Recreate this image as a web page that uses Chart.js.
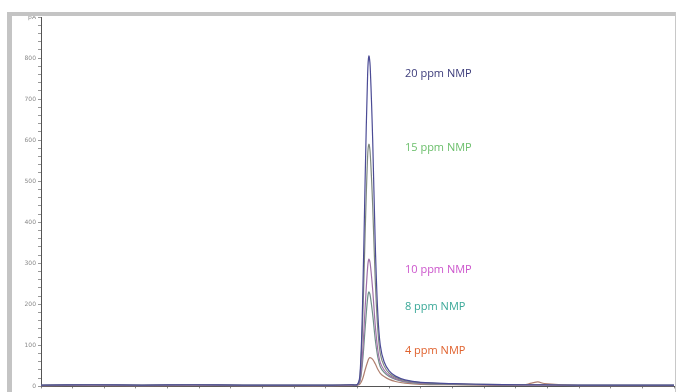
<!DOCTYPE html>
<html lang="en">
<head>
<meta charset="UTF-8" />
<title>NMP calibration chromatograms</title>
<style>
  * { box-sizing: border-box; }
  html, body {
    margin: 0; padding: 0;
    width: 676px; height: 392px;
    background: #fff;
    overflow: hidden;
  }
  #wrap {
    position: absolute;
    left: 0; top: 0;
    width: 676px; height: 392px;
  }
  /* grey window frame round the plot */
  .frame-left { position: absolute; left: 7px; top: 12px; width: 5px; height: 380px; background: #c4c4c4; }
  .frame-top { position: absolute; left: 7px; top: 12px; width: 669px; height: 4px; background: #c4c4c4; }
  .frame-right { position: absolute; left: 675px; top: 12px; width: 1px; height: 380px; background: #c8c8c8; }
</style>
</head>
<body>
<div id="wrap">
  <canvas id="chrom" width="676" height="392"></canvas>
</div>
<div class="frame-left"></div>
<div class="frame-top"></div>
<div class="frame-right"></div>

<script src="https://cdn.jsdelivr.net/npm/chart.js"></script>
<script>
// retention time (min), shared by all traces
const times = [0, 0.8, 1.6, 2.4, 3.2, 4.0, 4.6, 4.9, 5.0, 5.04, 5.08, 5.12, 5.16, 5.18, 5.2, 5.24, 5.28, 5.32, 5.36, 5.42, 5.5, 5.6, 5.75, 6.0, 6.5, 7.0, 7.6, 7.75, 7.85, 7.95, 8.5, 9.2, 10];

// detector response (pA) per standard
const nmp20 = [3, 4, 3, 4, 3, 3, 3, 4, 5, 30, 200, 500, 760, 805, 780, 600, 350, 180, 100, 60, 38, 25, 16, 10, 7, 5, 4, 4, 4, 4, 3, 3, 3];
const nmp15 = [3, 4, 3, 4, 3, 3, 3, 4, 5, 25, 150, 370, 560, 590, 570, 440, 260, 140, 80, 50, 32, 22, 14, 9, 6, 5, 4, 4, 4, 4, 3, 3, 3];
const nmp10 = [2, 3, 2, 3, 2, 2, 2, 3, 4, 15, 80, 190, 290, 310, 300, 235, 150, 90, 58, 40, 27, 19, 12, 8, 6, 4, 3, 3, 3, 3, 2, 2, 2];
const nmp8 = [2, 3, 2, 3, 2, 2, 2, 3, 4, 12, 60, 140, 215, 230, 222, 175, 115, 72, 48, 34, 24, 17, 11, 7, 5, 4, 3, 3, 3, 3, 2, 2, 2];
const nmp4 = [1, 2, 1, 2, 1, 1, 1, 2, 3, 6, 18, 40, 60, 68, 70, 66, 55, 42, 32, 24, 17, 12, 8, 5, 4, 3, 3, 8, 11, 7, 2, 2, 2];

const seriesNames = ['20 ppm NMP', '15 ppm NMP', '10 ppm NMP', '8 ppm NMP', '4 ppm NMP'];
const lineColors = ['#4b4b95', '#7f8a7f', '#a070a8', '#6f8f8a', '#b08070'];
const labelColors = ['#3b3b7a', '#6cbf6c', '#cc55cc', '#3aa898', '#e0622e'];

// where each label sits, in data units (time, pA)
const labelTimes = [5.75, 5.75, 5.75, 5.75, 5.75];
const labelValues = [762, 581, 285, 193, 87];

const yTop = 900;

function toPoints(vals) {
  return times.map((t, i) => ({ x: t, y: vals[i] }));
}

const allSeries = [nmp20, nmp15, nmp10, nmp8, nmp4];

const datasets = allSeries.map((vals, i) => ({
  label: seriesNames[i],
  data: toPoints(vals),
  borderColor: lineColors[i],
  borderWidth: 1.2,
  pointRadius: 0,
  tension: 0.35,
  fill: false
}));

// writes the concentration names next to the peak
const peakLabels = {
  id: 'peakLabels',
  afterDatasetsDraw(chart) {
    const { ctx, scales } = chart;
    ctx.save();
    ctx.font = '11px "Open Sans", sans-serif';
    ctx.textBaseline = 'middle';
    ctx.textAlign = 'left';
    seriesNames.forEach((name, i) => {
      ctx.fillStyle = labelColors[i];
      ctx.fillText(name, scales.x.getPixelForValue(labelTimes[i]), scales.y.getPixelForValue(labelValues[i]));
    });
    ctx.restore();
  }
};

new Chart(document.getElementById('chrom'), {
  type: 'line',
  data: { datasets },
  plugins: [peakLabels],
  options: {
    responsive: false,
    animation: false,
    layout: { padding: { left: 12, top: 17, right: 2, bottom: 0 } },
    plugins: {
      legend: { display: false },
      tooltip: { enabled: false }
    },
    scales: {
      x: {
        type: 'linear',
        min: 0,
        max: 10,
        afterFit: s => { s.height = 2; },
        border: { display: true, color: '#555', width: 1 },
        grid: { drawOnChartArea: false, drawTicks: true, tickLength: 2, color: '#888' },
        ticks: { display: false, stepSize: 0.5 }
      },
      y: {
        min: 0,
        max: yTop,
        afterFit: s => { s.width = 29; },
        border: { display: true, color: '#555', width: 1 },
        grid: { drawOnChartArea: false, drawTicks: true, tickLength: 3, color: '#999' },
        ticks: {
          stepSize: 20,
          maxTicksLimit: 100,
          autoSkip: false,
          padding: 2,
          color: '#8a8a8a',
          font: { size: 6, family: 'DejaVu Sans' },
          callback: v => (v === yTop ? 'pA' : (v % 100 === 0 ? String(v) : ''))
        }
      }
    }
  }
});
</script>
</body>
</html>
